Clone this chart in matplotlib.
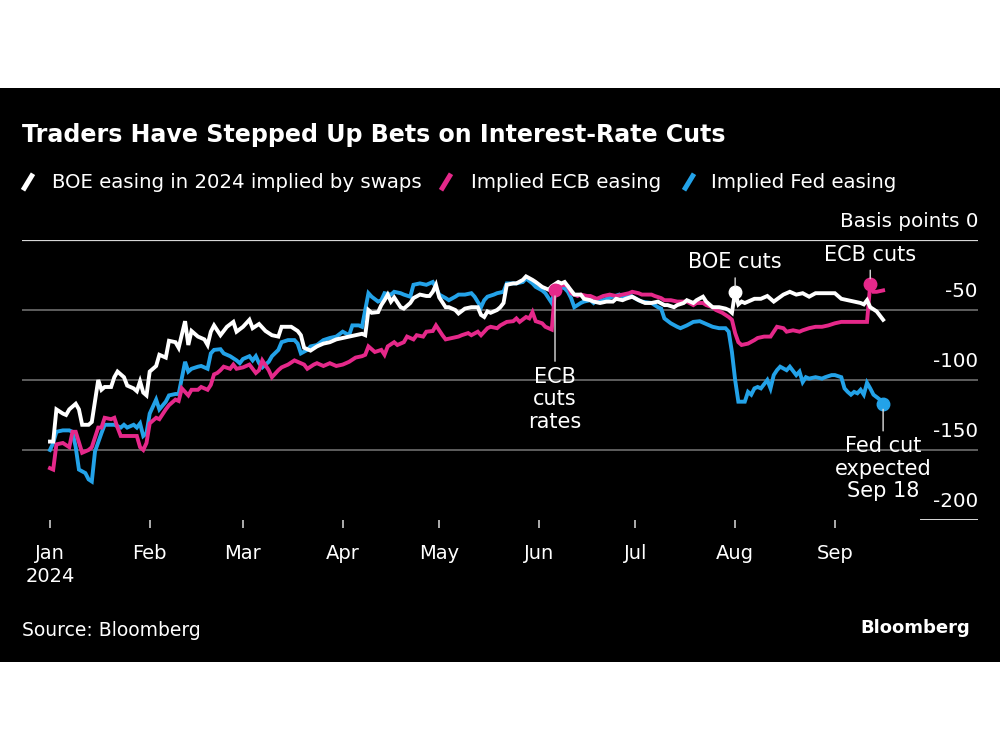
import matplotlib
matplotlib.use('Agg')
import matplotlib.pyplot as plt
from matplotlib.lines import Line2D
from matplotlib.patches import Rectangle
import pandas as pd

plt.rcParams['font.family'] = ['DejaVu Sans']

# x values are days since 1 Jan 2024, y values are basis points
boe_day = [0, 1, 2, 4, 5, 6, 8, 9, 10, 12, 13, 15, 16, 17, 19, 20, 21, 23, 24, 26, 27, 28, 29, 30, 31, 33, 34,
           36, 37, 39, 40, 42, 43, 44, 46, 48, 49,
           50, 51, 53, 55, 57, 58, 60, 62, 63, 65, 67, 69, 71, 72, 75, 77, 78, 79, 81, 83, 85, 87, 89, 91, 93,
           95, 97, 98, 99, 100, 102,
           103, 104, 105, 106, 107, 109, 110, 112, 113, 115, 117, 118, 119, 120, 121, 123, 124, 126, 127, 129,
           131, 133, 134, 135, 136, 137, 139, 140, 141, 142, 144, 145, 147, 148, 150, 151, 153, 155, 156, 158,
           159, 160, 162, 163, 165, 166, 168, 169, 171, 173, 175, 176, 178, 179, 181, 183, 185, 187, 189, 191,
           192, 194, 195, 197, 198, 200, 201, 203, 204, 206, 208, 210, 211, 212, 213, 214,
           215, 216, 218, 219, 221, 223, 225, 228, 230, 232, 234, 236, 238, 241, 244, 246, 248, 250, 252, 253,
           254, 255, 257, 259]
boe_bp = [-144, -144, -121, -124, -125, -121, -117, -121, -132, -132, -130, -100, -107, -105, -105, -98, -94,
          -98, -104, -106, -108, -101, -109, -111, -94, -90, -82, -84, -72, -73, -77, -58, -75, -65, -69, -71, -75,
          -65.5, -61, -68, -62, -58.5, -65.5, -62, -57, -63, -60, -65, -68, -69, -62, -62, -65, -68, -77, -79,
          -76, -74, -73, -71, -70, -69, -68, -67, -68, -50, -52, -51.5,
          -46.5, -43, -39, -44, -41, -48, -49, -45, -41.5, -39, -40, -40, -37, -32, -41, -48, -48, -50, -52.5,
          -49, -48, -48, -53.5, -55, -51, -52, -50, -48, -45, -32, -31, -31, -28.5, -26, -28.5, -30, -33.5,
          -35.5, -33, -30,
          -31, -30, -36, -39, -39, -42, -43, -44, -45, -44, -44, -42, -43, -42, -40.5, -43, -45, -45, -44,
          -46.5, -46.5, -48, -46.5, -45, -43, -45, -43, -40.5, -44, -48, -48, -49, -50, -52, -37, -46,
          -44, -45, -43, -42, -42, -40, -44, -39, -37, -39, -38, -40.5, -38, -38, -38, -42, -43, -44, -45, -46,
          -43, -48, -51, -57]

ecb_day = [0, 1, 2, 4, 6, 7, 8, 10, 12, 13, 15, 16, 17, 19, 20, 21, 22, 25, 27, 28, 29, 30, 31, 33, 34, 36,
           37, 39, 40, 41, 43, 44, 46, 47, 49,
           50, 51, 52, 53, 54, 56, 57, 58, 60, 62, 63, 64, 65, 66, 68, 69, 71, 72, 74, 76, 77, 79, 80, 82, 83,
           85, 87, 89, 91, 93, 95, 97, 98, 99, 101,
           103, 104, 105, 107, 108, 110, 111, 113, 114, 116, 117, 119, 120, 122, 123, 125, 127, 128, 130, 131,
           133, 134, 136, 137, 139, 140, 142, 144, 145, 146, 148, 149, 150, 151, 153, 154, 156, 157,
           158, 160, 161, 162, 164, 165, 167, 168, 170, 172, 174, 176, 178, 180, 181, 183, 184, 187, 188, 190,
           191, 193, 195, 196, 198, 200, 201, 203, 204, 206, 207, 209, 211,
           212, 213, 214, 215, 217, 219, 220, 222, 224, 225, 226, 228, 229, 231, 233, 234, 236, 238, 240, 242,
           244, 246, 248, 250, 252, 254, 255, 256, 257, 259]
ecb_bp = [-163, -164, -146, -145, -148, -137, -137, -152, -150, -148, -134, -134, -127, -128, -127, -134, -140,
          -140, -140, -148, -150, -145, -131, -127, -128, -121, -118, -114, -115, -106, -111, -107, -107, -105,
          -107,
          -103.5, -96, -95, -93, -90.5, -92, -89, -92, -91, -89, -92, -95, -93, -86, -93, -98, -93, -91, -89,
          -86, -87, -89, -92, -89, -88, -90, -88, -90, -89, -87, -84, -83, -82, -76, -80,
          -78.5, -82, -76, -73, -75, -73, -69, -71, -68, -69, -65.5, -65, -61, -68, -71, -70, -69, -68, -66.5,
          -68, -65.5, -68, -63, -62, -63, -61, -58.5, -58, -56, -58.5, -55, -56, -51.5, -58, -59.5, -62, -64,
          -36,
          -33, -32, -33, -38, -40, -39, -40, -40, -42, -40, -39, -40, -39, -38, -37, -38, -39, -39, -40, -41.5,
          -43, -43, -44, -44, -44, -46.5, -45, -45, -46.5, -48, -50, -52, -55,
          -57, -66.5, -73, -75, -74, -71.5, -70, -69, -69, -65.5, -62, -63, -65.5, -64.5, -65.5, -64.5, -63,
          -62, -62, -61, -59.5, -58.5, -58.5, -58.5, -58.5, -58.5, -31.5, -37, -37, -36]

fed_day = [0, 1, 2, 4, 6, 7, 8, 9, 11, 12, 13, 14, 16, 17, 19, 20, 22, 23, 24, 26, 27, 28, 29, 30, 31, 33, 34,
           36, 37, 39, 40, 42, 43, 44, 46, 47, 49,
           50, 51, 53, 54, 56, 58, 59, 60, 62, 63, 64, 65, 66, 67, 68, 69, 71, 72, 74, 76, 77, 78, 80, 81, 83,
           85, 87, 89, 91, 93, 94, 96, 97, 98, 99, 100, 102,
           103, 104, 106, 107, 109, 110, 112, 113, 115, 117, 118, 119, 120, 121, 123, 124, 126, 127, 129, 131,
           132, 134, 135, 136, 138, 139, 141, 142, 144, 145, 147, 148, 150, 151, 153, 154, 155, 156, 157,
           158, 160, 161, 162, 163, 165, 166, 168, 169, 170, 172, 173, 175, 177, 178, 180, 181, 183, 184, 187,
           189, 190, 191, 193, 195, 196, 198, 200, 202, 204, 206, 208, 210,
           211, 212, 213, 214, 216, 217, 218, 219, 220, 221, 223, 224, 225, 226, 227, 229, 230, 232, 233, 234,
           235, 236, 238, 240, 241, 243, 244, 246, 247, 248, 249, 250, 251, 252, 253, 254, 255, 256, 258, 259]
fed_bp = [-150, -145, -137, -136, -136, -137, -148, -164, -166.5, -171, -172.5, -151, -138, -132, -132, -132,
          -134, -132, -134, -132, -134, -131, -140, -138, -124, -114, -121, -115.5, -111, -110, -110, -87, -94,
          -92, -90.5, -90, -92,
          -81, -78.5, -78, -81, -83, -86, -88, -85, -83, -86, -83, -88, -91, -89, -87, -83, -78.5, -73, -71.5,
          -71.5, -74, -81, -78.5, -76, -75, -71.5, -70, -69, -65.5, -68, -61, -61, -62, -50, -38, -40.5, -44,
          -43, -38, -39, -37, -38, -39, -40.5, -32, -31, -32, -31, -30, -34, -39, -41.5, -43, -40.5, -39, -39,
          -38, -40.5, -48, -43, -40.5, -39, -38, -37, -31, -31, -31, -30, -27.5, -31, -33.5, -36, -38, -41.5,
          -45, -34,
          -33, -34.5, -37, -41.5, -48, -45, -44, -43, -45, -43, -43, -42, -40.5, -39, -40.5, -39, -40.5, -43,
          -44, -45, -48, -49, -56, -59.5, -62, -63, -61, -58.5, -58, -60, -62, -63, -63,
          -65.5, -80, -100, -115.5, -115.5, -108.5, -110.5, -106, -105, -106, -100, -106, -96.5, -93, -90.5,
          -93, -90.5, -96.5, -94, -101.5, -98, -99, -98, -99, -98, -96.5, -96.5, -98, -106, -108.5, -110.5,
          -108.5, -109.5, -107, -110.5, -102, -106, -110.5, -114, -117]

month_ticks = ['2024-01-01', '2024-02-01', '2024-03-01', '2024-04-01', '2024-05-01',
               '2024-06-01', '2024-07-01', '2024-08-01', '2024-09-01']
month_labels = ['Jan\n2024', 'Feb', 'Mar', 'Apr', 'May', 'Jun', 'Jul', 'Aug', 'Sep']
y_ticks = [0, -50, -100, -150, -200]
y_labels = ['Basis points 0', '-50', '-100', '-150', '-200']

white = '#ffffff'
pink = '#e5288a'
blue = '#23a2e8'

start = pd.Timestamp('2024-01-01')
def to_dates(days):
    return start + pd.to_timedelta(days, unit='D')

series = [
    ('Implied Fed easing', fed_day, fed_bp, blue),
    ('Implied ECB easing', ecb_day, ecb_bp, pink),
    ('BOE easing in 2024 implied by swaps', boe_day, boe_bp, white),
]

fig = plt.figure(figsize=(10, 7.5), dpi=100, facecolor='white')
fig.patches.append(Rectangle((0, 0.1173), 1, 0.7653, transform=fig.transFigure,
                             facecolor='black', edgecolor='none', zorder=-10))

ax = fig.add_axes([0.022, 0.3067, 0.956, 0.3733])
ax.set_facecolor('none')
for s in ax.spines.values():
    s.set_visible(False)

# gridlines
for v in y_ticks[:-1]:
    ax.axhline(v, color='#d8d8d8' if v == 0 else '#6e6e6e', lw=1.6 if v == 0 else 1.2, zorder=1)
ax.axhline(-200, xmin=0.94, xmax=1.0, color='#d8d8d8', lw=1.4, zorder=1)

for name, d, v, c in series:
    ax.plot(to_dates(d), v, color=c, lw=2.8, solid_joinstyle='miter', zorder=3, clip_on=False)

ax.set_xlim(start - pd.Timedelta(days=8.7), start + pd.Timedelta(days=288.5))
ax.set_ylim(-200, 0)

ax.set_xticks(pd.to_datetime(month_ticks))
ax.set_xticklabels(month_labels, color='white', fontsize=14, linespacing=1.3)
ax.tick_params(axis='x', colors='#cccccc', length=6, width=1.2, pad=11, labelcolor='white')
ax.set_yticks([])

for v, lab in zip(y_ticks, y_labels):
    ax.annotate(lab, xy=(1, v), xycoords=('axes fraction', 'data'), xytext=(0, 9.5),
                textcoords='offset points', ha='right', va='baseline', color='white', fontsize=14.3)

# event markers
def mark(days, vals, day, color, text, dy, va):
    i = days.index(day)
    x = to_dates([day])[0]
    y = vals[i]
    ax.plot([x], [y], 'o', color=color, ms=9, zorder=5, clip_on=False)
    ax.annotate(text, xy=(x, y), xytext=(0, dy), textcoords='offset points', ha='center', va=va,
                color='white', fontsize=15, linespacing=1.15, multialignment='center',
                arrowprops=dict(arrowstyle='-', color='#dddddd', lw=1, shrinkA=2, shrinkB=4),
                annotation_clip=False, zorder=6)

mark(ecb_day, ecb_bp, 157, pink, 'ECB\ncuts\nrates', -55, 'top')
mark(boe_day, boe_bp, 213, white, 'BOE cuts', 14, 'bottom')
mark(ecb_day, ecb_bp, 255, pink, 'ECB cuts', 14, 'bottom')
mark(fed_day, fed_bp, 259, blue, 'Fed cut\nexpected\nSep 18', -23.5, 'top')

# title and legend
fig.text(0.022, 0.82, 'Traders Have Stepped Up Bets on Interest-Rate Cuts', color='white',
         fontsize=17.1, fontweight='bold', va='center', ha='left')

leg_y = 1 - 182 / 750
leg_x = [(0.023, 0.052), (0.441, 0.471), (0.684, 0.711)]
for (sx, tx), (name, d, v, c) in zip(leg_x, series[::-1]):
    fig.add_artist(Line2D([sx, sx + 0.010], [leg_y - 0.011, leg_y + 0.011], color=c, lw=3.6,
                          transform=fig.transFigure, solid_capstyle='butt'))
    fig.text(tx, leg_y, name, color='white', fontsize=14.2, va='center', ha='left')

fig.text(0.022, 1 - 630 / 750, 'Source: Bloomberg', color='white', fontsize=13.5, va='center', ha='left')
fig.text(0.970, 1 - 628 / 750, 'Bloomberg', color='white', fontsize=13, fontweight='bold',
         va='center', ha='right')

fig.savefig('out.png', dpi=100, facecolor='white')
